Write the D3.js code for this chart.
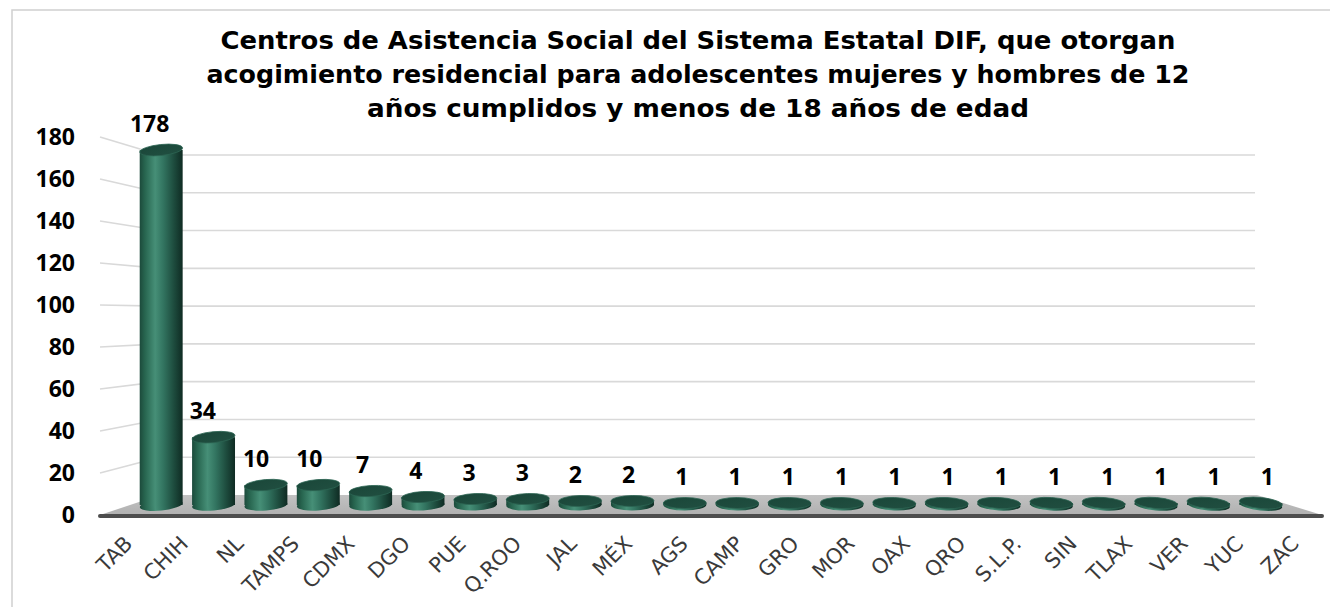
<!DOCTYPE html>
<html>
<head>
<meta charset="utf-8">
<script src="https://cdn.jsdelivr.net/npm/d3@7"></script>
<style>
  body { margin: 0; background: #fff; }
  svg { display: block; }
</style>
</head>
<body>
<div id="chart"></div>
<script>
// data
const categories = ["TAB", "CHIH", "NL", "TAMPS", "CDMX", "DGO", "PUE", "Q.ROO", "JAL", "MÉX", "AGS",
    "CAMP", "GRO", "MOR", "OAX", "QRO", "S.L.P.", "SIN", "TLAX", "VER", "YUC", "ZAC"];
const values = [178, 34, 10, 10, 7, 4, 3, 3, 2, 2, 1, 1, 1, 1, 1, 1, 1, 1, 1, 1, 1, 1];
const yTicks = [0, 20, 40, 60, 80, 100, 120, 140, 160, 180];
const titleLines = [
    "Centros de Asistencia Social del Sistema Estatal DIF, que otorgan",
    "acogimiento residencial para adolescentes mujeres y hombres de 12",
    "años cumplidos y menos de 18 años de edad"
];
const titleWidths = [955, 983, 662];

const W = 1330, H = 607;
const svg = d3.select("#chart").append("svg")
    .attr("width", W)
    .attr("height", H);

const defs = svg.append("defs");
const body = defs.append("linearGradient").attr("id", "cyl")
    .attr("x1", 0).attr("x2", 1).attr("y1", 0).attr("y2", 0);
[[0, "#1c4a3b"], [0.12, "#27654f"], [0.36, "#468f77"], [0.55, "#327460"],
 [0.8, "#1d4b3d"], [1, "#0f2b23"]].forEach(s => body.append("stop")
    .attr("offset", s[0]).attr("stop-color", s[1]));
const cap = defs.append("linearGradient").attr("id", "cap")
    .attr("x1", 0).attr("x2", 1).attr("y1", 0).attr("y2", 1);
[[0, "#1a4739"], [1, "#214f41"]].forEach(s => cap.append("stop")
    .attr("offset", s[0]).attr("stop-color", s[1]));
const floorG = defs.append("linearGradient").attr("id", "floor")
    .attr("x1", 0).attr("x2", 0).attr("y1", 0).attr("y2", 1);
[[0, "#c2c2c2"], [1, "#b0b0b0"]].forEach(s => floorG.append("stop")
    .attr("offset", s[0]).attr("stop-color", s[1]));

// chart frame
svg.append("rect")
    .attr("x", 12).attr("y", 10)
    .attr("width", W).attr("height", H)
    .attr("fill", "none")
    .attr("stroke", "#d0d0d0")
    .attr("stroke-width", 1.5);

// three depth planes of the 3D box: front edge, bar plane, back wall
const yFront = d3.scaleLinear().domain([0, 180]).range([515, 137]);
const yBar = d3.scaleLinear().domain([0, 180]).range([505, 146]);
const yBack = d3.scaleLinear().domain([0, 180]).range([495, 155]);

const xFront = d3.scaleBand().domain(categories).range([100, 1322]);
const xBar = d3.scaleBand().domain(categories).range([135, 1287])
    .paddingInner(0.18).paddingOuter(0.09);
const xLabel = d3.scaleBand().domain(categories).range([123, 1294]);

const wallLeft = 100, wallCorner = 160, wallRight = 1255;

// gridlines on side wall and back wall
const grid = svg.append("g").attr("stroke", "#d9d9d9").attr("stroke-width", 1.6).attr("fill", "none");
grid.selectAll(".side")
    .data(yTicks.filter(t => t > 0))
    .join("line")
    .attr("class", "side")
    .attr("x1", wallLeft).attr("y1", d => yFront(d))
    .attr("x2", wallCorner).attr("y2", d => yBack(d));
grid.selectAll(".back")
    .data(yTicks.filter(t => t > 0))
    .join("line")
    .attr("class", "back")
    .attr("x1", wallCorner).attr("y1", d => yBack(d))
    .attr("x2", wallRight).attr("y2", d => yBack(d));

// floor
svg.append("path")
    .attr("d", `M${wallLeft},${yFront(0)} L${wallCorner},${yBack(0)} L${wallRight + 2},${yBack(0)} L1322,${yFront(0)} Z`)
    .attr("fill", "url(#floor)");
svg.append("line")
    .attr("x1", wallLeft).attr("x2", 1322)
    .attr("y1", yFront(0) + 1).attr("y2", yFront(0) + 1)
    .attr("stroke", "#4d4d4d")
    .attr("stroke-width", 4)
    .attr("stroke-linecap", "round");

// cylinders
const bw = xBar.bandwidth();
const ry = 5.5;
const tilt = cx => (cx - 700) / 560 * 6;

const bars = svg.append("g").selectAll(".bar")
    .data(categories.map((c, i) => ({cat: c, value: values[i]})))
    .join("g")
    .attr("class", "bar");

bars.each(function (d) {
    const g = d3.select(this);
    const cx = xBar(d.cat) + bw / 2;
    const yb = yBar(0), yt = yBar(d.value);
    const a = tilt(cx);
    g.append("ellipse")
        .attr("cx", cx).attr("cy", yb)
        .attr("rx", bw / 2).attr("ry", ry)
        .attr("transform", `rotate(${a},${cx},${yb})`)
        .attr("fill", "url(#cyl)");
    g.append("rect")
        .attr("x", cx - bw / 2).attr("y", yt)
        .attr("width", bw).attr("height", yb - yt)
        .attr("fill", "url(#cyl)");
    g.append("ellipse")
        .attr("cx", cx).attr("cy", yt)
        .attr("rx", bw / 2).attr("ry", ry)
        .attr("transform", `rotate(${a},${cx},${yt})`)
        .attr("fill", "url(#cap)")
        .attr("stroke", "#2c6553")
        .attr("stroke-width", 0.8);
});

// value labels
svg.append("g").selectAll(".val")
    .data(categories.map((c, i) => ({cat: c, value: values[i]})))
    .join("text")
    .attr("class", "val")
    .attr("x", d => xLabel(d.cat) + xLabel.bandwidth() / 2)
    .attr("y", d => yBar(d.value) - 18)
    .attr("text-anchor", "middle")
    .attr("font-family", "Open Sans")
    .attr("font-weight", "bold")
    .attr("font-size", 23)
    .attr("fill", "#000")
    .text(d => d.value);

// y axis labels
svg.append("g").selectAll(".ytick")
    .data(yTicks)
    .join("text")
    .attr("class", "ytick")
    .attr("x", 75)
    .attr("y", d => yFront(d))
    .attr("dy", "0.36em")
    .attr("text-anchor", "end")
    .attr("font-family", "Open Sans")
    .attr("font-weight", "bold")
    .attr("font-size", 23)
    .attr("fill", "#000")
    .text(d => d);

// x axis labels, rotated
svg.append("g").selectAll(".xtick")
    .data(categories)
    .join("text")
    .attr("class", "xtick")
    .attr("transform", d => `translate(${xFront(d) + xFront.bandwidth() / 2 + 6},545) rotate(-45)`)
    .attr("text-anchor", "end")
    .attr("font-family", "DejaVu Sans")
    .attr("font-size", 21)
    .attr("fill", "#3a3a3a")
    .text(d => d);

// title
svg.append("g").selectAll(".title")
    .data(titleLines)
    .join("text")
    .attr("class", "title")
    .attr("x", 698)
    .attr("y", (d, i) => 49 + i * 34)
    .attr("text-anchor", "middle")
    .attr("font-family", "DejaVu Sans")
    .attr("font-weight", "bold")
    .attr("font-size", 25)
    .attr("textLength", (d, i) => titleWidths[i])
    .attr("lengthAdjust", "spacingAndGlyphs")
    .attr("fill", "#000")
    .text(d => d);
</script>
</body>
</html>
